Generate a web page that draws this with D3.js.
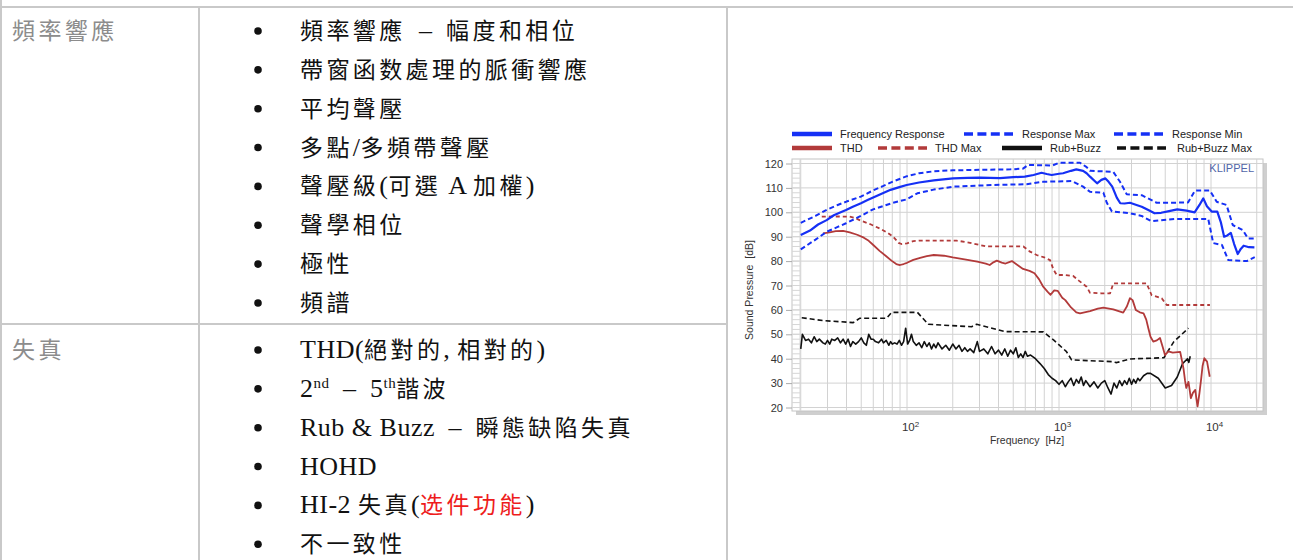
<!DOCTYPE html>
<html>
<head>
<meta charset="utf-8">
<script src="https://cdn.jsdelivr.net/npm/d3@7"></script>
<style>
html, body { margin: 0; padding: 0; background: #fff; }
svg { display: block; }
text { white-space: pre; }
</style>
</head>
<body>
<svg id="page" width="1293" height="560"></svg>
<script>
// ---- table text ----
const rowLabels = ["頻率響應", "失真"];
const freqItems = ["頻率響應 – 幅度和相位", "帶窗函数處理的脈衝響應", "平均聲壓", "多點/多頻帶聲壓",
  "聲壓級(可選 A 加權)", "聲學相位", "極性", "頻譜"];
const distItems = ["THD(絕對的, 相對的)", [["2"], ["nd", "sup"], [" – 5"], ["th", "sup"], ["諧波"]],
  "Rub & Buzz – 瞬態缺陷失真", "HOHD", [["HI-2 失真("], ["选件功能", "red"], [")"]], "不一致性"];

// ---- chart data: [frequency Hz, dB] ----
const respCurve = [[20,90.7],[23,92.5],[26,95],[29.6,96.8],[33,98.8],[36,99.8],[39.7,100.9],[44,102.3],[49.8,103.7],[55,105],[62,106.5],[69.2,107.8],[78,109.2],[88,110.2],[99.5,111.2],[120,112.2],[150,113.1],[201,113.9],[250,114.1],[302,114.2],[409,114],[500,114.4],[596,114.6],[680,115.3],[768,116.2],[830,115.7],[895,115.3],[1000,115.8],[1063,116],[1200,117],[1300,117.6],[1440,117],[1520,116],[1600,114.6],[1780,111.9],[1900,113.3],[2020,113.9],[2120,112.5],[2240,110.5],[2400,106],[2530,103.7],[2700,103.6],[2930,103.9],[3200,103.1],[3500,102.3],[3900,100.8],[4250,99.6],[4700,99.8],[5300,100.5],[6000,101.2],[6900,100.7],[7800,100],[8400,103],[8900,105.7],[9400,102.5],[10100,100.3],[11000,100.3],[11600,96],[12200,90],[12800,90.5],[13500,91.6],[14200,87],[15000,82.9],[15700,85],[16400,86.3],[17800,85.7],[19300,85.6]];
const respMax = [[20,95.7],[25,98.5],[30,101.2],[35,103],[40,104.4],[50,106.5],[60,109],[70,110.8],[80,112.5],[100,114.8],[120,116],[150,116.8],[200,117.2],[300,117.4],[480,117.6],[580,117.9],[625,119.4],[905,119.2],[1000,120.3],[1375,120.3],[1520,118.5],[1600,117],[2275,116.6],[2520,112.5],[2790,107.4],[3500,107],[4400,103.9],[7060,104],[7840,108.9],[9840,108.9],[10900,104.3],[12650,103],[13900,94.8],[16200,92.7],[17500,89.3],[19400,89.3]];
const respMin = [[20,84.8],[25,88.8],[29.6,92],[35,94],[39.7,95.5],[50,98.6],[59.8,101.2],[80,103.8],[99.5,105.3],[117,107.8],[150,109.3],[201,110.5],[368,111.2],[612,111.5],[785,112.5],[1220,112.8],[1440,110.5],[1600,108.4],[1960,108],[2060,104],[2230,100.3],[2930,99.6],[3500,98.5],[4040,96.4],[5780,97.3],[9590,97.3],[10340,87.4],[11800,86.6],[13000,80.4],[17200,80],[19400,81.6]];
const thdCurve = [[28,91.4],[31,91.8],[34,92.3],[38,92.4],[42,91.8],[47,90.8],[52,89.6],[56,88.3],[60,86.6],[66,84.2],[73,82],[79,80.2],[85,78.8],[90,78.4],[95,78.8],[100,79.3],[110,80.5],[122,81.3],[135,82],[150,82.5],[175,82.2],[200,81.5],[250,80.5],[290,79.8],[330,79],[350,78.4],[370,79.5],[390,80.2],[420,79.4],[445,79],[470,79.6],[490,80],[530,78.5],[580,76.8],[640,76],[690,75],[740,72.5],[787,69.5],[840,67.5],[880,66.2],[930,68],[980,67.8],[1050,65],[1100,64],[1200,61],[1300,59],[1375,58.6],[1600,59.5],[1800,60.5],[1960,60.9],[2275,60.2],[2645,58.9],[2800,61.5],[2930,64.8],[3050,64],[3200,60],[3400,59],[3600,58.6],[3750,56],[3870,52.5],[4000,49],[4170,47],[4400,47.5],[4620,48.5],[4800,45],[4980,41.5],[5240,43],[5600,42.5],[6270,42.8],[6450,39],[6590,36],[6750,31],[6870,28],[7110,30.5],[7370,23.8],[7600,26],[7880,27.2],[8000,24],[8160,20.5],[8400,26],[8600,31.3],[8800,37],[9040,40.2],[9420,38.8],[9810,32.6]];
const thdMax = [[27.5,98.2],[35,98.3],[42,98.2],[45,97.8],[50,96.5],[58,95],[66,93.4],[75,91.5],[81,90],[88,87.5],[92,87],[100,87.3],[110,88.2],[120,88.4],[212,88.4],[260,87.5],[334,86],[583,86],[640,84],[712,82.5],[800,81.5],[873,80.4],[920,76.5],[966,74.3],[1100,74.3],[1240,73.9],[1350,72],[1520,69.5],[1600,67],[1900,66.8],[2170,66.8],[2275,70.9],[3770,70.9],[4070,66],[4740,64.8],[5110,62],[9840,62]];
const rbCurve = [[20,44],[20.5,50],[21.5,47.5],[22.5,48],[23.5,46.5],[24.5,49],[25.5,47],[26.5,48],[28,46.5],[29,46],[30,47.5],[31,46],[32,48],[33.5,47.5],[35,48.5],[36.5,46.5],[38,48],[39.5,46],[41,48],[42.5,45],[44,47],[46,46],[48,47],[50,48.5],[52,46.5],[54,45.5],[56,50],[58,48],[60,48],[62,47],[65,46.5],[68,48],[70,46.5],[73,47.5],[76,45.5],[78,47],[80,46],[83,46.5],[86,46],[89,47.5],[92,45.5],[95,47],[98,52.5],[101,46],[104,47.5],[107,50],[110,47],[115,45.5],[120,46.5],[125,44.5],[130,47],[135,45],[140,46.5],[145,44],[150,46],[155,44.5],[160,46.5],[170,44],[180,45.5],[190,43.5],[200,46],[210,44],[220,45.5],[230,43],[240,44.5],[250,43],[260,44],[275,42.5],[290,47],[300,43],[320,44],[340,42],[360,45],[380,42],[400,43.5],[420,41.5],[440,44],[460,41],[480,43.5],[500,42],[520,44.5],[540,40.5],[560,42],[580,40.5],[600,43],[620,41],[650,41.5],[700,40],[750,38],[800,36],[850,33.5],[900,32],[950,31],[1000,29.5],[1050,31],[1100,28.5],[1150,30.5],[1200,32],[1250,29],[1300,31.5],[1350,30],[1400,32.5],[1450,29],[1500,31],[1600,28.5],[1700,30.5],[1800,28],[1900,30],[2000,31],[2100,28],[2200,25.5],[2300,30],[2400,28],[2500,31],[2600,29],[2700,31],[2800,29.5],[2900,32],[3000,29.5],[3100,31.5],[3200,30],[3300,32],[3400,31],[3600,33],[3800,34],[4000,34],[4500,32],[5000,28],[5500,29],[6000,32.5],[6500,38],[7000,40],[7150,38.5],[7300,41]];
const rbMax = [[20.3,56.8],[28.1,55.6],[44.3,54.8],[49,56.6],[73.5,56.6],[79.3,59],[117,59],[138,54.1],[266,53.1],[287,54.1],[441,51.1],[787,51],[920,47.7],[1120,42.9],[1210,39.5],[2230,38.8],[2400,38.4],[2930,39.9],[4900,40.4],[5700,47],[7100,52.5]];

const yTicks = [20, 30, 40, 50, 60, 70, 80, 90, 100, 110, 120];
const xTicks = [100, 1000, 10000];
const gridFreqs = [20, 30, 40, 50, 60, 70, 80, 90, 100, 200, 300, 400, 500, 600, 700, 800, 900,
  1000, 2000, 3000, 4000, 5000, 6000, 7000, 8000, 9000, 10000, 20000];

const BLUE = "#1530f5", RED = "#b23a3a", BLACK = "#111";
const series = [
  { name: "Rub+Buzz Max", data: rbMax, color: BLACK, dash: "5,3", w: 1.6 },
  { name: "Rub+Buzz", data: rbCurve, color: BLACK, dash: null, w: 1.6 },
  { name: "THD Max", data: thdMax, color: RED, dash: "4,3", w: 1.8 },
  { name: "THD", data: thdCurve, color: RED, dash: null, w: 1.8 },
  { name: "Response Min", data: respMin, color: BLUE, dash: "5,3", w: 2 },
  { name: "Response Max", data: respMax, color: BLUE, dash: "5,3", w: 2 },
  { name: "Frequency Response", data: respCurve, color: BLUE, dash: null, w: 2.2 }
];
// legend order and layout
const legendRows = [
  [["Frequency Response", 792, 840], ["Response Max", 964, 1022], ["Response Min", 1114, 1172]],
  [["THD", 792, 840], ["THD Max", 878, 935], ["Rub+Buzz", 1002, 1050], ["Rub+Buzz Max", 1117, 1177]]
];

const svg = d3.select("#page");

// ---------- table ----------
const GRID = "#c9c9c9";
const tbl = svg.append("g");
tbl.append("line").attr("x1", 0).attr("x2", 1293).attr("y1", 7).attr("y2", 7).attr("stroke", GRID).attr("stroke-width", 2);
[1, 199, 727].forEach((cx, i) => {
  tbl.append("line").attr("x1", cx).attr("x2", cx).attr("y1", i === 0 ? 0 : 7).attr("y2", 560)
    .attr("stroke", GRID).attr("stroke-width", 2);
});
tbl.append("line").attr("x1", 0).attr("x2", 727).attr("y1", 324).attr("y2", 324).attr("stroke", GRID).attr("stroke-width", 2);

const CJK = /([\u2e80-\u9fff\uf900-\ufaff\uff00-\uffef]+)/;
function addRuns(textSel, str, color, isSup, dy) {
  str.split(CJK).filter(s => s.length).forEach((s, i) => {
    const cjk = CJK.test(s);
    const ts = textSel.append("tspan")
      .attr("font-family", cjk ? "'Noto Sans CJK TC', sans-serif" : "'Liberation Serif', serif")
      .attr("font-size", isSup ? 15 : (cjk ? 23 : 26))
      .attr("letter-spacing", cjk ? 3.4 : 0.5)
      .attr("fill", color)
      .text(s.replace(/ – /g, "\u2002–\u2002"));
    if (i === 0 && dy) ts.attr("dy", dy);
  });
}
function richText(g, x, y, item, color) {
  const t = g.append("text").attr("x", x).attr("y", y);
  const segs = typeof item === "string" ? [[item]] : item;
  let pending = 0;
  segs.forEach(([s, kind]) => {
    if (kind === "sup") {
      addRuns(t, s, color, true, pending - 9);
      pending = 9;
    } else {
      addRuns(t, s, kind === "red" ? "#ee1c1c" : color, false, pending);
      pending = 0;
    }
  });
  return t;
}

const rowTops = [30, 349];
const lineGap = 38.85;
[freqItems, distItems].forEach((items, r) => {
  richText(tbl, 12, rowTops[r] + 9, rowLabels[r], "#8c8c8c");
  items.forEach((it, i) => {
    const cy = rowTops[r] + i * lineGap;
    tbl.append("circle").attr("cx", 258).attr("cy", cy + 1).attr("r", 3.8).attr("fill", "#111");
    richText(tbl, 300, cy + 9, it, "#111");
  });
});

// ---------- chart ----------
const x = d3.scaleLog().domain([100, 10000]).range([907, 1211]);
const y = d3.scaleLinear().domain([20, 120]).range([407.5, 163.5]);
const frame = { l: 792, r: 1263, t: 159, b: 411 };
const chart = svg.append("g").attr("font-family", "'Liberation Sans', Arial, sans-serif");

// shadow + frame
chart.append("rect").attr("x", frame.l + 4).attr("y", frame.t + 4).attr("width", frame.r - frame.l)
  .attr("height", frame.b - frame.t).attr("fill", "#cfcfcf");
chart.append("rect").attr("x", frame.l).attr("y", frame.t).attr("width", frame.r - frame.l)
  .attr("height", frame.b - frame.t).attr("fill", "#fff").attr("stroke", "#c4c4c4").attr("stroke-width", 1);

// grid
chart.append("g").selectAll("line").data(gridFreqs).join("line")
  .attr("x1", d => x(d)).attr("x2", d => x(d)).attr("y1", frame.t).attr("y2", frame.b)
  .attr("stroke", "#d2d2d2").attr("stroke-width", 1);
chart.append("g").selectAll("line").data(yTicks).join("line")
  .attr("x1", frame.l).attr("x2", frame.r).attr("y1", d => y(d)).attr("y2", d => y(d))
  .attr("stroke", "#d2d2d2").attr("stroke-width", 1);
// minor ladder on the left edge
chart.append("g").selectAll("line").data(d3.range(20, 121, 2)).join("line")
  .attr("x1", frame.l).attr("x2", frame.l + 8).attr("y1", d => y(d)).attr("y2", d => y(d))
  .attr("stroke", "#d6d6d6").attr("stroke-width", 1);
chart.append("line").attr("x1", frame.l + 8).attr("x2", frame.l + 8).attr("y1", frame.t).attr("y2", frame.b)
  .attr("stroke", "#d6d6d6");

// y axis
const yAxis = chart.append("g").attr("transform", `translate(${frame.l},0)`)
  .call(d3.axisLeft(y).tickValues(yTicks).tickSize(6).tickPadding(3));
yAxis.select(".domain").remove();
yAxis.selectAll(".tick line").attr("stroke", "#aaa");
yAxis.selectAll("text").attr("font-size", 11).attr("fill", "#333").attr("font-family", null);

// x axis with superscript exponents
const xAxis = chart.append("g").attr("transform", `translate(0,${frame.b})`)
  .call(d3.axisBottom(x).tickValues(xTicks).tickSize(0).tickPadding(12).tickFormat(() => ""));
xAxis.select(".domain").remove();
xAxis.selectAll(".tick text").each(function(d) {
  const t = d3.select(this).attr("font-size", 11.5).attr("fill", "#333").attr("font-family", null).attr("dx", 3);
  t.append("tspan").text("10");
  t.append("tspan").attr("font-size", 8).attr("dy", -4).text(String(Math.round(Math.log10(d))));
});

chart.append("text").attr("x", 1027).attr("y", 444).attr("text-anchor", "middle")
  .attr("font-size", 10.5).attr("fill", "#333").text("Frequency  [Hz]");
chart.append("text").attr("transform", "translate(753,290) rotate(-90)").attr("text-anchor", "middle")
  .attr("font-size", 10.5).attr("fill", "#333").text("Sound Pressure  [dB]");
chart.append("text").attr("x", 1254).attr("y", 172).attr("text-anchor", "end")
  .attr("font-size", 11).attr("fill", "#5165a8").text("KLIPPEL");

// curves
const line = d3.line().x(d => x(d[0])).y(d => y(d[1]));
chart.append("g").selectAll("path").data(series).join("path")
  .attr("d", d => line(d.data)).attr("fill", "none")
  .attr("stroke", d => d.color).attr("stroke-width", d => d.w)
  .attr("stroke-dasharray", d => d.dash).attr("stroke-linejoin", "round");

// legend
const byName = new Map(series.map(s => [s.name, s]));
const legendY = [134, 148];
legendRows.forEach((row, r) => {
  row.forEach(([name, lx, tx]) => {
    const s = byName.get(name);
    chart.append("line").attr("x1", lx).attr("x2", lx + (s.dash ? 49 : 40)).attr("y1", legendY[r]).attr("y2", legendY[r])
      .attr("stroke", s.color).attr("stroke-width", s.dash ? 3.5 : 4.6)
      .attr("stroke-dasharray", s.dash ? "9,4.4" : null);
    chart.append("text").attr("x", tx).attr("y", legendY[r] + 4).attr("font-size", 11)
      .attr("fill", "#222").text(name);
  });
});
</script>
</body>
</html>
